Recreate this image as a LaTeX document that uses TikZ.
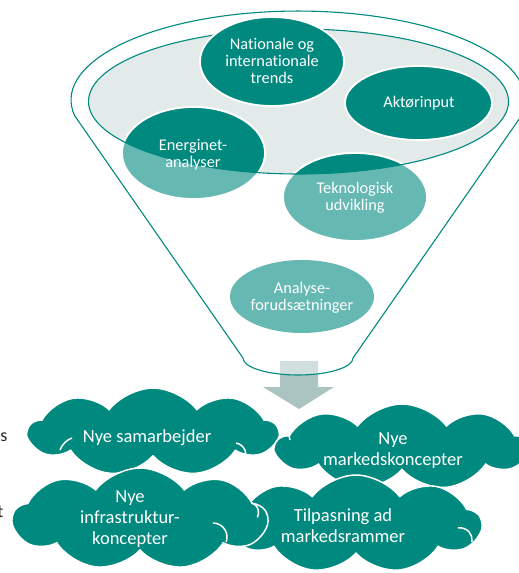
\documentclass[tikz,border=0pt]{standalone}
\usepackage{fontspec}
\setmainfont{Carlito}[Ligatures={NoCommon}]
\usetikzlibrary{shapes.symbols,shapes.geometric}
\definecolor{tealdark}{HTML}{00897F}
\definecolor{teallight}{HTML}{66B8B3}
\definecolor{innerfill}{HTML}{E3EBEA}
\definecolor{arrowfill}{HTML}{ABC4C2}
\tikzset{
  bubble/.style={ellipse, draw=white, line width=1.8pt, inner sep=0pt},
  toptext/.style={text=white, align=center, font=\fontsize{16.3}{17.3}\selectfont, inner sep=0pt},
  cloudtext/.style={text=white, align=center, font=\fontsize{18.5}{21}\selectfont, inner sep=0pt},
  cloudbox/.style={cloud, cloud puffs=9, cloud puff arc=105, cloud ignores aspect, fill=tealdark, draw=white, line width=1.5pt, inner sep=0pt},
  puffline/.style={draw=white, line width=1.5pt},
  funnelline/.style={draw=tealdark, line width=1.1pt}
}
\begin{document}
\begin{tikzpicture}[x=1pt,y=-1pt]
\useasboundingbox (0,0) rectangle (519,573);
% arrow
\fill[arrowfill] (280,361) -- (318,361) -- (318,387) -- (334,387) -- (299,409) -- (263,387) -- (280,387) -- cycle;
% funnel
\path[funnelline, fill=white, fill opacity=0.45] (74.5,115.5) arc[start angle=170,end angle=370,x radius=227,y radius=89]
  -- (353,358) arc[start angle=0,end angle=180,x radius=55,y radius=17] -- cycle;
% inner ellipse
\fill[innerfill] (298.5,101.5) ellipse[x radius=210,y radius=72.5];
% lower bubbles
\node[bubble, fill=teallight, minimum width=143pt, minimum height=92pt] (ener) at (193.5,153) {};
\node[bubble, fill=teallight, minimum width=144pt, minimum height=88pt] (tekn) at (355,197) {};
\begin{scope}
\clip (298.5,101.5) ellipse[x radius=210,y radius=72.5];
\fill[tealdark] (193.5,153) ellipse[x radius=71.5,y radius=46];
\fill[tealdark] (355,197) ellipse[x radius=72,y radius=44];
\draw[white, line width=1.8pt] (193.5,153) ellipse[x radius=71.5,y radius=46];
\draw[white, line width=1.8pt] (355,197) ellipse[x radius=72,y radius=44];
\end{scope}
\draw[funnelline] (298.5,101.5) ellipse[x radius=210,y radius=72.5];
% upper bubbles
\node[bubble, fill=tealdark, minimum width=144pt, minimum height=89pt] (nat) at (272,61.5) {};
\node[bubble, fill=tealdark, minimum width=147pt, minimum height=74pt] (akt) at (418.5,103) {};
\node[bubble, fill=teallight, draw=none, minimum width=144pt, minimum height=73pt] (ana) at (302,296.5) {};
% texts
\node[toptext] (natt) at (272,61) {Nationale og\\internationale\\trends};
\node[toptext] (aktt) at (419,103) {Aktørinput};
\node[toptext] (enert) at (193,154.5) {Energinet-\\analyser};
\node[toptext] (teknt) at (355,198) {Teknologisk\\udvikling};
\node[toptext] (anat) at (302,297.5) {Analyse-\\forudsætninger};
% clouds
\node[cloudbox, minimum width=249pt, minimum height=88pt] (c1) at (153,432) {};
\draw[puffline] (236,443) arc[start angle=-80,end angle=30,radius=12];
\draw[puffline] (60,450) arc[start angle=200,end angle=250,radius=20];
\node[cloudbox, minimum width=252pt, minimum height=86pt] (c2) at (402,447) {};
\draw[puffline] (290,440) arc[start angle=160,end angle=220,radius=16];
\node[cloudbox, minimum width=250pt, minimum height=98pt] (c4) at (356,524) {};
\draw[puffline] (458,528) arc[start angle=-100,end angle=10,radius=12];
\node[cloudbox, minimum width=254pt, minimum height=102pt] (c3) at (140,519) {};
\draw[puffline] (213,523) arc[start angle=-90,end angle=20,radius=14];
\draw[puffline] (252,503) arc[start angle=-70,end angle=30,radius=10];
\node[cloudtext] (c1t) at (147,438) {Nye samarbejder};
\node[cloudtext] (c2t) at (393,451) {Nye\\markedskoncepter};
\node[cloudtext] (c3t) at (130,519.5) {Nye\\infrastruktur-\\koncepter};
\node[cloudtext] (c4t) at (343,525.5) {Tilpasning ad\\markedsrammer};
% stray text fragments at the left edge
\node[font=\fontsize{18}{21}\selectfont, text=black!85, inner sep=0pt] (sfrag) at (4,437) {s};
\node[font=\fontsize{18}{21}\selectfont, text=black!85, inner sep=0pt] (tfrag) at (0.5,512) {t};
\end{tikzpicture}
\end{document}
